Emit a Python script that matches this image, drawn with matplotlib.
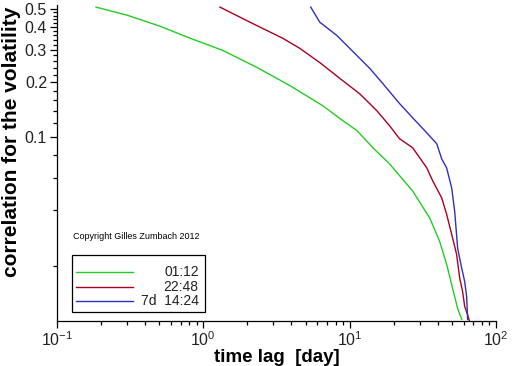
import matplotlib
matplotlib.use("Agg")
import matplotlib.pyplot as plt
from matplotlib.ticker import FixedLocator, FixedFormatter, LogLocator, NullFormatter
from matplotlib.lines import Line2D
from matplotlib.patches import Rectangle

plt.rcParams['font.family'] = ['Liberation Sans', 'DejaVu Sans']
plt.rcParams['mathtext.fontset'] = 'custom'
plt.rcParams['mathtext.rm'] = 'Liberation Sans'
plt.rcParams['mathtext.it'] = 'Liberation Sans'
plt.rcParams['mathtext.default'] = 'regular'

# data
lag_green = [0.185, 0.301, 0.505, 0.847, 1.36, 2.32, 3.89, 6.54, 8.55, 11.2, 14.4,
             18.7, 26.9, 35.2, 41.1, 45.9, 50.5, 54.6, 58.2]
corr_green = [0.513, 0.464, 0.404, 0.343, 0.298, 0.241, 0.192, 0.149, 0.127, 0.109,
              0.0879, 0.0718, 0.0511, 0.0364, 0.0272, 0.0204, 0.0150, 0.0117, 0.0102]

lag_red = [1.30, 2.08, 3.49, 4.56, 6.24, 8.55, 11.7, 15.3, 18.7, 21.9, 26.9, 33.6,
           36.9, 42.5, 45.9, 49.7, 53.7, 56.4, 59.0, 61.0, 63.9, 65.9]
corr_red = [0.513, 0.425, 0.347, 0.306, 0.256, 0.210, 0.173, 0.140, 0.116, 0.0984,
            0.0879, 0.0683, 0.0580, 0.0468, 0.0382, 0.0297, 0.0231, 0.0171, 0.0145,
            0.0120, 0.0108, 0.00993]

lag_blue = [5.42, 6.24, 8.15, 10.0, 13.7, 16.8, 21.9, 26.9, 33.6, 39.3, 42.5, 45.9,
            49.7, 52.1, 54.6, 58.2, 61.0, 62.9, 63.9]
corr_blue = [0.513, 0.425, 0.360, 0.306, 0.238, 0.197, 0.153, 0.128, 0.106, 0.0924,
             0.0764, 0.0683, 0.0531, 0.0397, 0.0249, 0.0194, 0.0164, 0.0136, 0.0102]

series_labels = ["01:12", "22:48", "7d  14:24"]
series_colors = ["#22cc22", "#aa0020", "#3030c0"]

y_major = [0.1, 0.2, 0.3, 0.4, 0.5]
y_major_labels = ["0.1", "0.2", "0.3", "0.4", "0.5"]
y_minor = [0.02, 0.04, 0.06, 0.08, 0.12, 0.14, 0.16, 0.18, 0.22, 0.24, 0.26, 0.28,
           0.32, 0.34, 0.36, 0.38, 0.42, 0.44, 0.46, 0.48]

fig = plt.figure(figsize=(5.12, 3.66), dpi=100)
ax = fig.add_axes([0.111, 0.123, 0.858, 0.863])

for xs, ys, c in zip([lag_green, lag_red, lag_blue], [corr_green, corr_red, corr_blue], series_colors):
    ax.plot(xs, ys, color=c, lw=1.0)

ax.set_xscale('log')
ax.set_yscale('log')
ax.set_xlim(0.1, 100)
ax.set_ylim(0.01, 0.526)

ax.yaxis.set_major_locator(FixedLocator(y_major))
ax.yaxis.set_major_formatter(FixedFormatter(y_major_labels))
ax.yaxis.set_minor_locator(FixedLocator(y_minor))
ax.yaxis.set_minor_formatter(NullFormatter())
ax.xaxis.set_major_locator(LogLocator(base=10, numticks=10))
ax.xaxis.set_minor_locator(LogLocator(base=10, subs=range(2, 10), numticks=20))
ax.xaxis.set_minor_formatter(NullFormatter())

for s in ['top', 'right']:
    ax.spines[s].set_visible(False)
for s in ['left', 'bottom']:
    ax.spines[s].set_linewidth(0.9)

ax.tick_params(which='major', direction='out', length=5, width=0.9, labelsize=11.5, pad=2, colors='black', labelcolor='#222222')
ax.tick_params(which='minor', direction='out', length=3, width=0.9)

ax.set_xlabel("time lag  [day]", fontsize=13.5, fontweight='bold', labelpad=0)
ax.set_ylabel("correlation for the volatility", fontsize=15, fontweight='bold')
ax.yaxis.set_label_coords(-0.082, 0.566)

# copyright note
ax.text(0.036, 0.269, "Copyright Gilles Zumbach 2012", transform=ax.transAxes,
        fontsize=6.5, va='center', ha='left')

# legend box drawn manually (right aligned labels)
ax.add_patch(Rectangle((0.034, 0.0285), 0.303, 0.1805, transform=ax.transAxes,
                       fill=False, edgecolor='black', lw=0.9))
rows_y = [0.155, 0.108, 0.0633]
for lab, c, yy in zip(series_labels, series_colors, rows_y):
    ax.add_line(Line2D([0.0433, 0.173], [yy, yy], transform=ax.transAxes, color=c, lw=1.0))
    ax.text(0.323, yy, lab, transform=ax.transAxes, fontsize=10, ha='right', va='center', color='#222222')

fig.savefig("out.png", dpi=100)
